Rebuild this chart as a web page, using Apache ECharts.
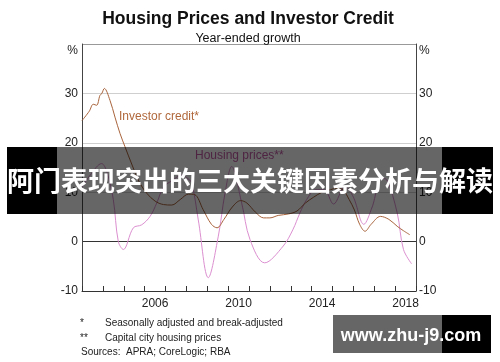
<!DOCTYPE html>
<html>
<head>
<meta charset="utf-8">
<script src="https://cdn.jsdelivr.net/npm/echarts@6/dist/echarts.min.js"></script>
<style>html,body{margin:0;padding:0;background:#fff}#c{width:500px;height:362px}</style>
</head>
<body>
<div id="c"></div>
<script>
// ---- data ----
var yearCats = ['2003','2004','2005','2006','2007','2008','2009','2010','2011','2012','2013','2014','2015','2016','2017','2018'];
var shownYears = ['2006','2010','2014','2018'];
var yTicks = [-10, 0, 10, 20, 30, 40];

var creditT = [2003.0,2003.35,2003.54,2003.7,2003.86,2003.95,2004.07,2004.34,2004.58,2004.82,2005.06,2005.4,2005.75,2006.1,2006.5,2006.9,2007.3,2007.7,2008.1,2008.4,2008.8,2009.2,2009.47,2009.8,2010.2,2010.6,2010.9,2011.3,2011.7,2012.0,2012.4,2012.9,2013.3,2013.7,2014.1,2014.5,2014.9,2015.2,2015.5,2015.8,2016.05,2016.3,2016.56,2016.85,2017.3,2017.7,2018.1,2018.4,2018.7];
var creditV = [24.5,26.4,27.8,27.6,29.6,30.0,31.0,28.6,25.2,21.9,19.2,15.5,12.0,9.8,8.2,7.5,7.4,8.5,9.6,9.5,6.5,3.5,2.8,4.5,7.0,8.3,7.8,6.0,4.8,4.8,5.3,5.6,6.2,7.8,9.0,10.0,10.5,10.8,10.5,8.5,6.4,3.5,2.1,3.5,5.1,4.5,3.1,2.2,1.4];

var pricesT = [2003.0,2003.4,2003.94,2004.2,2004.5,2004.74,2004.98,2005.46,2005.86,2006.26,2006.58,2006.9,2007.3,2007.8,2008.0,2008.25,2008.57,2009.05,2009.53,2009.85,2010.17,2010.65,2011.05,2011.75,2012.64,2013.1,2013.44,2013.76,2014.2,2014.6,2015.05,2015.6,2016.0,2016.5,2016.9,2017.35,2017.6,2018.1,2018.4,2018.79];
var pricesV = [11.0,13.5,15.8,14.0,8.5,0.0,-1.6,2.8,3.4,5.1,7.8,11.0,12.3,13.5,13.0,11.9,4.4,-7.3,1.1,9.8,15.2,7.8,0.4,-4.3,-0.9,2.4,5.8,8.5,10.5,10.5,7.6,11.2,9.0,3.5,7.0,12.8,12.5,5.8,-1.6,-4.5];

function pairs(t, v) { return t.map(function (x, i) { return [x, v[i]]; }); }

var FONT = 'Liberation Sans, Arial, sans-serif';
var chart = echarts.init(document.getElementById('c'), null, {renderer: 'canvas'});

var yLabelFmt = function (v) { return v === 40 ? '{p|%}' : String(v); };
var yRich = { p: { fontSize: 12, fontFamily: FONT, color: '#222', padding: [14, 0, 0, 0] } };

chart.setOption({
  animation: false,
  backgroundColor: '#fff',
  title: [
    { text: 'Housing Prices and Investor Credit', left: 243, top: 5, textAlign: 'center',
      textStyle: { fontFamily: FONT, fontWeight: 'bold', fontSize: 17.5, color: '#111' } },
    { text: 'Year-ended growth', left: 243, top: 27, textAlign: 'center',
      textStyle: { fontFamily: FONT, fontWeight: 'normal', fontSize: 12.5, color: '#111' } }
  ],
  grid: { left: 82, right: 84, top: 44, bottom: 71, show: false },
  xAxis: [
    { type: 'value', min: 2003, max: 2019, interval: 1, position: 'bottom',
      axisLine: { show: true, onZero: false, lineStyle: { color: '#333', width: 1 } },
      axisTick: { show: true, inside: true, length: 5, lineStyle: { color: '#333' } },
      axisLabel: { show: false }, splitLine: { show: false } },
    { type: 'category', data: yearCats, boundaryGap: true, position: 'bottom',
      axisLine: { show: false }, axisTick: { show: false }, splitLine: { show: false },
      axisLabel: { interval: function (i, v) { return shownYears.indexOf(v) >= 0; },
        margin: 7, fontFamily: FONT, fontSize: 12, color: '#222' } }
  ],
  yAxis: [
    { type: 'value', min: yTicks[0], max: yTicks[yTicks.length - 1], interval: 10, position: 'left',
      axisLine: { show: true, lineStyle: { color: '#444' } }, axisTick: { show: false },
      axisLabel: { formatter: yLabelFmt, rich: yRich, margin: 4, fontFamily: FONT, fontSize: 12, color: '#222' },
      splitLine: { show: true, lineStyle: { color: ['#333', '#333', '#cfcfcf', '#cfcfcf', '#cfcfcf', '#999'], width: 1 } } },
    { type: 'value', min: yTicks[0], max: yTicks[yTicks.length - 1], interval: 10, position: 'right',
      axisLine: { show: true, lineStyle: { color: '#444' } }, axisTick: { show: false },
      axisLabel: { formatter: yLabelFmt, rich: yRich, margin: 3, fontFamily: FONT, fontSize: 12, color: '#222' },
      splitLine: { show: false } }
  ],
  series: [
    { name: 'Housing prices**', type: 'line', xAxisIndex: 0, yAxisIndex: 0, data: pairs(pricesT, pricesV),
      showSymbol: false, symbol: 'none', smooth: 0.35, lineStyle: { color: '#dc8fd0', width: 1 }, z: 3 },
    { name: 'Investor credit*', type: 'line', xAxisIndex: 0, yAxisIndex: 0, data: pairs(creditT, creditV),
      showSymbol: false, symbol: 'none', smooth: 0.35, lineStyle: { color: '#a9643c', width: 1 }, z: 4 }
  ],
  graphic: [
    { type: 'text', left: 119, top: 111, z: 10, style: { text: 'Investor credit*', fill: '#b0683c', font: '12px ' + FONT } },
    { type: 'text', left: 195, top: 150, z: 10, style: { text: 'Housing prices**', fill: '#c25aa6', font: '12px ' + FONT } },
    { type: 'text', left: 80, top: 318, z: 10, style: { text: '*', fill: '#222', font: '10px ' + FONT } },
    { type: 'text', left: 105, top: 318, z: 10, style: { text: 'Seasonally adjusted and break-adjusted', fill: '#222', font: '10px ' + FONT } },
    { type: 'text', left: 80, top: 333, z: 10, style: { text: '**', fill: '#222', font: '10px ' + FONT } },
    { type: 'text', left: 105, top: 333, z: 10, style: { text: 'Capital city housing prices', fill: '#222', font: '10px ' + FONT } },
    { type: 'text', left: 81, top: 347, z: 10, style: { text: 'Sources:', fill: '#222', font: '10px ' + FONT } },
    { type: 'text', left: 126, top: 347, z: 10, style: { text: 'APRA; CoreLogic; RBA', fill: '#222', font: '10px ' + FONT } },
    // banner overlay
    { type: 'rect', z: 100, shape: { x: 7, y: 147, width: 50, height: 67 }, style: { fill: '#000' } },
    { type: 'rect', z: 100, shape: { x: 442, y: 147, width: 51, height: 67 }, style: { fill: '#000' } },
    { type: 'rect', z: 100, shape: { x: 57, y: 147, width: 385, height: 67 }, style: { fill: 'rgba(0,0,0,0.6)' } },
    { type: 'text', z: 101, x: 250, y: 181, style: { text: '阿门表现突出的三大关键因素分析与解读', fill: '#fff',
      font: 'bold 27px "Noto Sans CJK SC", sans-serif', textAlign: 'center', textVerticalAlign: 'middle' } },
    // watermark
    { type: 'rect', z: 100, shape: { x: 333, y: 315, width: 109, height: 38 }, style: { fill: 'rgba(0,0,0,0.6)' } },
    { type: 'rect', z: 100, shape: { x: 442, y: 315, width: 49, height: 38 }, style: { fill: '#000' } },
    { type: 'text', z: 101, x: 411, y: 336, style: { text: 'www.zhu-j9.com', fill: '#fff',
      font: 'bold 18px ' + FONT, textAlign: 'center', textVerticalAlign: 'middle' } }
  ]
});
</script>
</body>
</html>
